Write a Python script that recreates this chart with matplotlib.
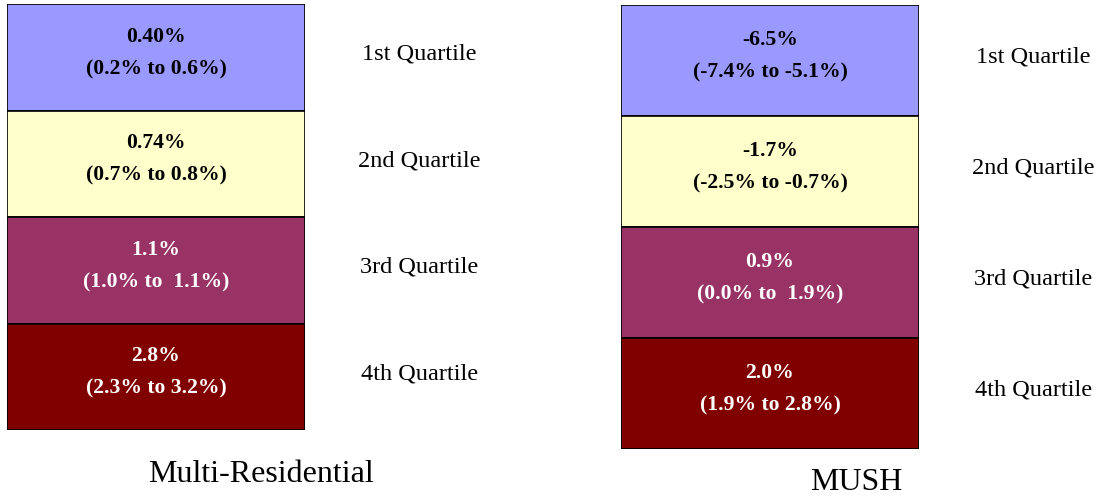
import matplotlib
matplotlib.use("Agg")
import matplotlib.pyplot as plt

quartiles = ["1st Quartile", "2nd Quartile", "3rd Quartile", "4th Quartile"]
colors = ["#9999ff", "#ffffcc", "#993366", "#800000"]
text_colors = ["black", "black", "white", "white"]

multi_res_median = ["0.40%", "0.74%", "1.1%", "2.8%"]
multi_res_range = ["(0.2% to 0.6%)", "(0.7% to 0.8%)", "(1.0% to  1.1%)", "(2.3% to 3.2%)"]

mush_median = ["-6.5%", "-1.7%", "0.9%", "2.0%"]
mush_range = ["(-7.4% to -5.1%)", "(-2.5% to -0.7%)", "(0.0% to  1.9%)", "(1.9% to 2.8%)"]

plt.rcParams["font.family"] = ["Liberation Serif", "DejaVu Serif"]

W, H = 1105, 497
fig = plt.figure(figsize=(W / 100, H / 100), dpi=100)


def column(left, bottom, width, height, medians, ranges, title, title_xy):
    ax = fig.add_axes([left / W, 1 - (bottom) / H, width / W, height / H])
    ax.bar([0] * 4, [1] * 4, bottom=range(4), width=1, color=colors,
           edgecolor="black", linewidth=1.2, align="edge")
    ax.set_xlim(0, 1)
    ax.set_ylim(4, 0)
    ax.axis("off")
    for i in range(4):
        ax.text(0.5, i + 0.46, medians[i] + "\n" + ranges[i], ha="center", va="center",
                fontsize=15.6, fontweight="bold", color=text_colors[i], linespacing=1.85)
        ax.text(1.383, i + 0.47, quartiles[i], ha="center", va="center",
                fontsize=17.5, color="black", clip_on=False)
    fig.text(title_xy[0] / W, 1 - title_xy[1] / H, title, ha="center", va="center",
             fontsize=23, color="black")


column(7, 430, 298, 426, multi_res_median, multi_res_range, "Multi-Residential", (261, 474))
column(621, 449, 298, 444, mush_median, mush_range, "MUSH", (856, 483))

fig.savefig("out.png", dpi=100)
